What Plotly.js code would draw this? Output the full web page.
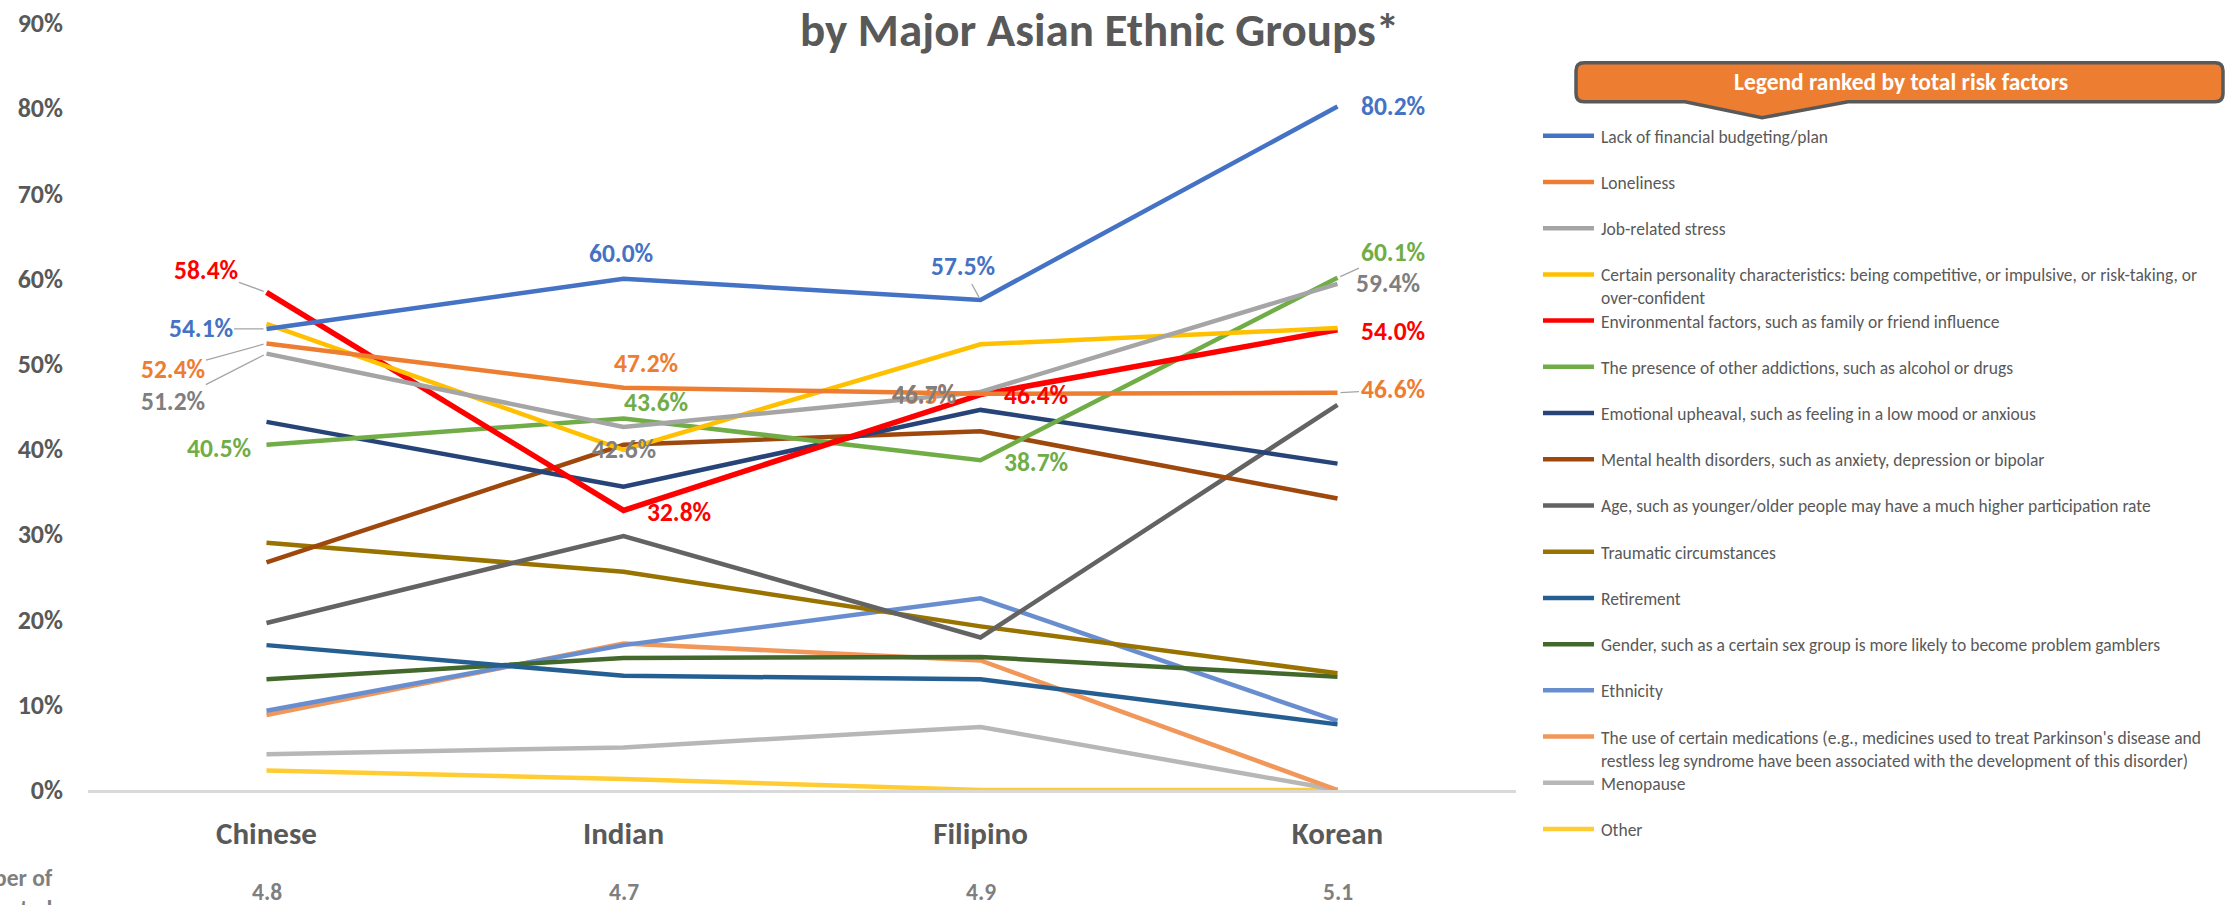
<!DOCTYPE html>
<html>
<head>
<meta charset="utf-8">
<script src="https://cdn.plot.ly/plotly-3.0.1.min.js"></script>
<style>
  html, body { margin: 0; padding: 0; background: #ffffff; }
  #chart { width: 2227px; height: 905px; }
</style>
</head>
<body>
<div id="chart"></div>
<script>
// ---------------- DATA ----------------
const categories = ['Chinese', 'Indian', 'Filipino', 'Korean'];
const avgFactorsSelected = [4.8, 4.7, 4.9, 5.1];

const lackOfFinancialPlan   = [54.1, 60.0, 57.5, 80.2];
const loneliness            = [52.4, 47.2, 46.5, 46.6];
const jobRelatedStress      = [51.2, 42.6, 46.7, 59.4];
const personality           = [54.7, 39.9, 52.3, 54.2];
const environmental         = [58.4, 32.8, 46.4, 54.0];
const otherAddictions       = [40.5, 43.6, 38.7, 60.1];
const emotionalUpheaval     = [43.2, 35.6, 44.6, 38.3];
const mentalHealth          = [26.7, 40.5, 42.1, 34.2];
const age                   = [19.6, 29.8, 17.9, 45.2];
const traumatic             = [29.0, 25.6, 19.2, 13.7];
const retirement            = [17.0, 13.4, 13.0, 7.7];
const gender                = [13.0, 15.5, 15.6, 13.3];
const ethnicity             = [9.3, 17.0, 22.5, 8.1];
const medications           = [8.8, 17.2, 15.2, 0.0];
const menopause             = [4.2, 5.0, 7.4, 0.0];
const other                 = [2.3, 1.3, 0.0, 0.0];

const seriesNames = [
  'Lack of financial budgeting/plan',
  'Loneliness',
  'Job-related stress',
  'Certain personality characteristics: being competitive, or impulsive, or risk-taking, or<br>over-confident',
  'Environmental factors, such as family or friend influence',
  'The presence of other addictions, such as alcohol or drugs',
  'Emotional upheaval, such as feeling in a low mood or anxious',
  'Mental health disorders, such as anxiety, depression or bipolar',
  'Age, such as younger/older people may have a much higher participation rate',
  'Traumatic circumstances',
  'Retirement',
  'Gender, such as a certain sex group is more likely to become problem gamblers',
  'Ethnicity',
  "The use of certain medications (e.g., medicines used to treat Parkinson's disease and<br>restless leg syndrome have been associated with the development of this disorder)",
  'Menopause',
  'Other'
];
const seriesValues = [
  lackOfFinancialPlan, loneliness, jobRelatedStress, personality, environmental,
  otherAddictions, emotionalUpheaval, mentalHealth, age, traumatic, retirement,
  gender, ethnicity, medications, menopause, other
];

// ---------------- STYLE ----------------
const seriesColors = [
  '#4472C4', '#ED7D31', '#A5A5A5', '#FFC000', '#FF0000', '#70AD47', '#264478',
  '#9E480E', '#636363', '#997300', '#255E91', '#43682B', '#698ED0', '#F1975A',
  '#B7B7B7', '#FFCD33'
];
const labelColors = {0: '#4472C4', 1: '#ED7D31', 2: '#7F7F7F', 4: '#FF0000', 5: '#70AD47'};
// data-label placement: series index, category index, offset (px), leader line
const labelPlacement = [
  [0, 0, -66, 0, true], [0, 1, -3, -25, false], [0, 2, -18, -33, true], [0, 3, 55, 0, false],
  [1, 0, -94, 26, true], [1, 1, 22, -24, false], [1, 2, -57, 2, false], [1, 3, 55, -3, true],
  [2, 0, -94, 48, true], [2, 1, 0, 23, false], [2, 2, -57, 2, false], [2, 3, 50, 0, false],
  [4, 0, -61, -22, true], [4, 1, 55, 2, false], [4, 2, 55, 1, false], [4, 3, 55, 2, false],
  [5, 0, -48, 4, false], [5, 1, 32, -16, false], [5, 2, 55, 2, false], [5, 3, 55, -25, true]
];

const FONT = 'Carlito, Lato, "Open Sans", sans-serif';
const W = 2227, H = 905;
const PL = 88, PR = 1516, PT = 23.3, PB = 790;
const px2x = p => (p - PL) / (PR - PL);
const py2y = p => (PB - p) / (PB - PT);

// ---------------- TRACES ----------------
const traces = seriesValues.map((vals, k) => ({
  type: 'scatter',
  mode: 'lines',
  x: categories,
  y: vals,
  name: seriesNames[k],
  line: {color: seriesColors[k], width: k === 4 ? 5.5 : 4.5},
  hoverinfo: 'x+y+name',
  showlegend: false
}));
// draw in reverse so the first series is on top
traces.reverse();

// ---------------- ANNOTATIONS ----------------
const annotations = [];

labelPlacement.forEach(([s, i, dx, dy, leader]) => {
  const v = seriesValues[s][i];
  const a = {
    xref: 'x', yref: 'y', x: categories[i], y: v,
    text: v.toFixed(1) + '%',
    font: {family: FONT, size: 25.5, color: labelColors[s], weight: 'bold'},
  };
  if (leader) {
    Object.assign(a, {showarrow: true, ax: dx, ay: dy, arrowhead: 0, arrowwidth: 1.3,
      arrowcolor: '#A5A5A5', standoff: 3});
  } else {
    Object.assign(a, {showarrow: false, xshift: dx, yshift: -dy});
  }
  annotations.push(a);
});

// bottom row: average number of factors selected
categories.forEach((c, i) => {
  annotations.push({
    xref: 'x', yref: 'paper', x: c, y: py2y(892), yanchor: 'middle',
    text: avgFactorsSelected[i].toFixed(1), showarrow: false,
    font: {family: FONT, size: 23.5, color: '#7F7F7F', weight: 'bold'}
  });
});
annotations.push({
  xref: 'paper', yref: 'paper', x: px2x(55), y: py2y(862), xanchor: 'right', yanchor: 'top',
  align: 'right', showarrow: false,
  text: 'Average Number of<br>Factors Selected',
  font: {family: FONT, size: 23.5, color: '#7F7F7F', weight: 'bold'}
});

// title (second line visible)
annotations.push({
  xref: 'paper', yref: 'paper', x: px2x(1099), y: py2y(0), xanchor: 'center', yanchor: 'top',
  borderpad: 0, showarrow: false, text: 'by Major Asian Ethnic Groups*',
  font: {family: FONT, size: 47, color: '#595959', weight: 'bold'}
});

// legend header callout text
annotations.push({
  xref: 'paper', yref: 'paper', x: px2x(1901), y: py2y(82), xanchor: 'center', yanchor: 'middle',
  showarrow: false, text: 'Legend ranked by total risk factors',
  font: {family: FONT, size: 23.5, color: '#FFFFFF', weight: 'bold'}
});

// ---------------- SHAPES (legend) ----------------
const shapes = [];
// callout box with pointer
(function () {
  const x0 = 1576, x1 = 2223, y0 = 63, y1 = 102, r = 8;
  const pL = 1685, pR = 1848, pX = 1762, pY = 118;
  const P = (x, y) => px2x(x).toFixed(5) + ',' + py2y(y).toFixed(5);
  const path = 'M' + P(x0 + r, y0) + ' L' + P(x1 - r, y0) + ' Q' + P(x1, y0) + ' ' + P(x1, y0 + r) +
    ' L' + P(x1, y1 - r) + ' Q' + P(x1, y1) + ' ' + P(x1 - r, y1) +
    ' L' + P(pR, y1) + ' L' + P(pX, pY) + ' L' + P(pL, y1) +
    ' L' + P(x0 + r, y1) + ' Q' + P(x0, y1) + ' ' + P(x0, y1 - r) +
    ' L' + P(x0, y0 + r) + ' Q' + P(x0, y0) + ' ' + P(x0 + r, y0) + ' Z';
  shapes.push({type: 'path', xref: 'paper', yref: 'paper', path: path,
    fillcolor: '#ED7D31', line: {color: '#595959', width: 3.5}, layer: 'above'});
})();

seriesNames.forEach((n, k) => {
  const yy = 136 + 46.2 * k;
  shapes.push({type: 'line', xref: 'paper', yref: 'paper',
    x0: px2x(1543), x1: px2x(1594), y0: py2y(yy), y1: py2y(yy),
    line: {color: seriesColors[k], width: 4.5}});
  annotations.push({
    xref: 'paper', yref: 'paper', x: px2x(1599), y: py2y(yy - 12), xanchor: 'left', yanchor: 'top',
    align: 'left', showarrow: false, text: n,
    font: {family: FONT, size: 17.5, color: '#595959'}
  });
});

// ---------------- LAYOUT ----------------
const layout = {
  width: W, height: H,
  margin: {l: PL, r: W - PR, t: PT, b: H - PB, pad: 0},
  paper_bgcolor: '#FFFFFF', plot_bgcolor: '#FFFFFF',
  showlegend: false,
  font: {family: FONT, color: '#595959'},
  xaxis: {
    type: 'category', range: [-0.5, 3.5],
    showgrid: false, zeroline: false,
    showline: true, linecolor: '#D9D9D9', linewidth: 2.5,
    ticks: '', ticklabelstandoff: 14,
    tickfont: {family: FONT, size: 31, color: '#595959', weight: 'bold'}
  },
  yaxis: {
    range: [0, 90], dtick: 10, ticksuffix: '%',
    showgrid: false, zeroline: false, showline: false,
    ticks: '', ticklabelstandoff: 24,
    tickfont: {family: FONT, size: 26, color: '#595959', weight: 'bold'}
  },
  shapes: shapes,
  annotations: annotations
};

Plotly.newPlot('chart', traces, layout, {displayModeBar: false, staticPlot: true});
</script>
</body>
</html>
